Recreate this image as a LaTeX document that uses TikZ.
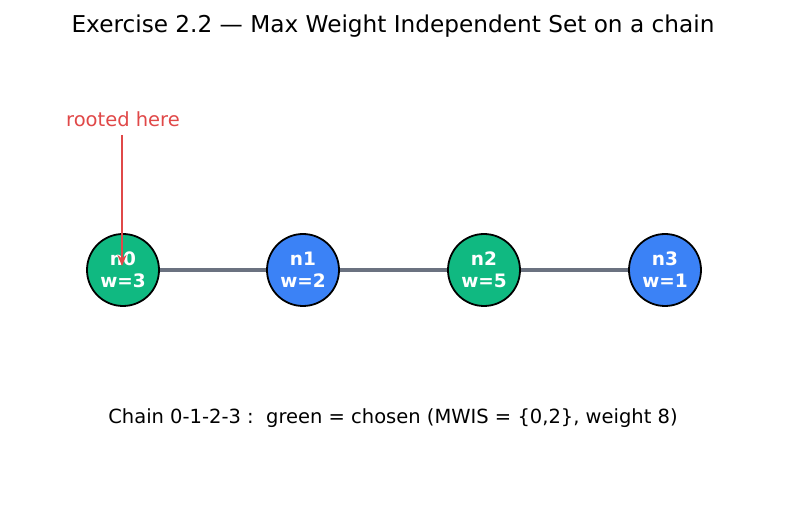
\documentclass[tikz,border=0pt]{standalone}
\usepackage{fontspec}
\setmainfont{DejaVu Sans}
\usetikzlibrary{arrows.meta}
\definecolor{pickgreen}{HTML}{10B981}
\definecolor{skipblue}{HTML}{3B82F6}
\definecolor{edgegray}{HTML}{6B7280}
\definecolor{rootred}{HTML}{E04848}
\tikzset{
  vert/.style={circle, draw=black, line width=1.8pt, minimum size=72pt, inner sep=0pt,
    text=white, font=\fontsize{18.5}{22}\selectfont\bfseries, align=center},
  chosen/.style={vert, fill=pickgreen},
  skipped/.style={vert, fill=skipblue}
}
\begin{document}
\begin{tikzpicture}[x=1pt, y=-1pt]
      \useasboundingbox (0,0) rectangle (787,510);
      \node (title) at (393,26.5) {\fontsize{23.2}{27}\selectfont Exercise 2.2 — Max Weight Independent Set on a chain};
      \draw
        (123,270) node[chosen] (0){n0\\w=3}
        (303,270) node[skipped] (1){n1\\w=2}
        (484,270) node[chosen] (2){n2\\w=5}
        (665,270) node[skipped] (3){n3\\w=1};
      \begin{scope}[line width=3.6pt, edgegray]
        \draw (0) to (1);
        \draw (1) to (2);
        \draw (2) to (3);
      \end{scope}
      \node[text=rootred, font=\fontsize{19.5}{23}\selectfont] (root) at (123,119) {rooted here};
      \coordinate (tip) at (122,266);
      \draw[rootred, line width=2.6pt, -{Stealth[length=11pt,width=9pt]}] (122,135) to (tip);
      \node[font=\fontsize{19.5}{23}\selectfont] (caption) at (393,418.5)
        {Chain 0-1-2-3 :\ \ green = chosen (MWIS = \{0,2\}, weight 8)};
\end{tikzpicture}
\end{document}
